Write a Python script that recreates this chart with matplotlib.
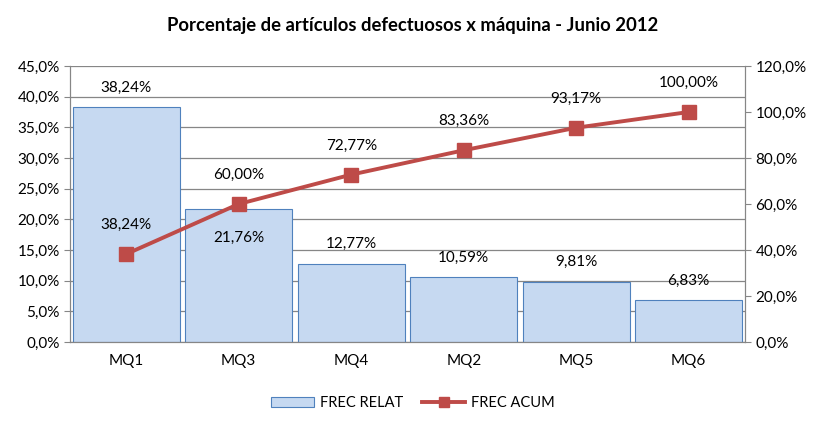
import matplotlib
matplotlib.use("Agg")
import matplotlib.pyplot as plt
from matplotlib.ticker import FuncFormatter, MultipleLocator
from matplotlib.lines import Line2D
from matplotlib.patches import Patch

plt.rcParams['font.family'] = ['Lato', 'DejaVu Sans']

categories = ["MQ1", "MQ3", "MQ4", "MQ2", "MQ5", "MQ6"]
frec_relat = [38.24, 21.76, 12.77, 10.59, 9.81, 6.83]
frec_acum = [38.24, 60.00, 72.77, 83.36, 93.17, 100.00]
title = "Porcentaje de artículos defectuosos x máquina - Junio 2012"

bar_face = "#C6D9F1"
bar_edge = "#4F81BD"
line_col = "#BE4B48"

fig = plt.figure(figsize=(8.25, 4.32), dpi=100)
ax = fig.add_axes([70/825, 1-342/432, (745-70)/825, (342-66)/432])
ax2 = ax.twinx()

x = list(range(len(categories)))
ax.bar(x, frec_relat, width=0.95, color=bar_face, edgecolor=bar_edge,
       linewidth=0.8, zorder=2)
ax.set_xlim(-0.5, len(categories) - 0.5)
ax.set_ylim(0, 45)
ax.yaxis.set_major_locator(MultipleLocator(5))
ax.yaxis.set_major_formatter(FuncFormatter(lambda v, p: f"{v:.1f}%".replace(".", ",")))
ax.grid(axis="y", color="#868686", linewidth=0.9, zorder=0)
ax.set_axisbelow(True)
ax.set_xticks(x)
ax.set_xticklabels(categories)
ax.tick_params(axis="x", length=0, pad=9, labelsize=11)
ax.tick_params(axis="y", length=4, color="#868686", labelsize=11)

ax2.plot(x, frec_acum, color=line_col, linewidth=2.8, marker="s",
         markersize=10, markerfacecolor=line_col, markeredgecolor=line_col,
         zorder=5)
ax2.set_ylim(0, 120)
ax2.yaxis.set_major_locator(MultipleLocator(20))
ax2.yaxis.set_major_formatter(FuncFormatter(lambda v, p: f"{v:.1f}%".replace(".", ",")))
ax2.tick_params(axis="y", length=4, color="#868686", labelsize=11)

for a in (ax, ax2):
    a.spines["top"].set_visible(False)
    for sp in ["left", "right", "bottom"]:
        a.spines[sp].set_color("#868686")

fmt = lambda v: f"{v:.2f}%".replace(".", ",")
for i, v in enumerate(frec_relat):
    dy = -21 if i == 1 else 14
    ax.annotate(fmt(v), (i, v), xytext=(0, dy), textcoords="offset points",
                ha="center", va="center", fontsize=11, zorder=6)
for i, v in enumerate(frec_acum):
    ax2.annotate(fmt(v), (i, v), xytext=(0, 21), textcoords="offset points",
                 ha="center", va="center", fontsize=11, zorder=6)

fig.suptitle(title, y=1-26/432, va="center", fontsize=13.3, fontweight="bold")

handles = [Patch(facecolor=bar_face, edgecolor=bar_edge, linewidth=0.8),
           Line2D([], [], color=line_col, linewidth=2.8, marker="s", markersize=7)]
fig.legend(handles, ["FREC RELAT", "FREC ACUM"], loc="center",
           bbox_to_anchor=(0.5, 1-403/432), ncol=2, frameon=False, fontsize=10.5,
           handlelength=3.0, handletextpad=0.35, columnspacing=1.3)

fig.savefig("out.png", dpi=100)
